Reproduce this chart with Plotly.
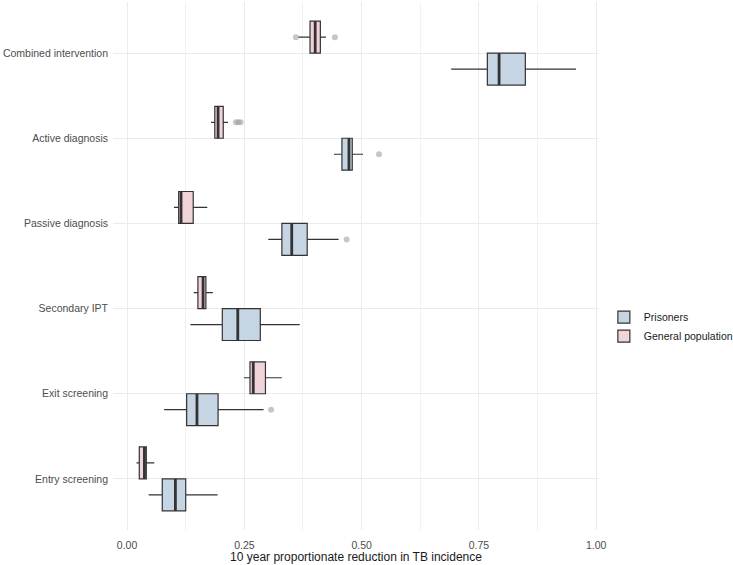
import plotly.graph_objects as go

# Categories, bottom to top
categories = ["Entry screening", "Exit screening", "Secondary IPT",
              "Passive diagnosis", "Active diagnosis", "Combined intervention"]

# Prisoners box statistics (same order as categories)
pris_low = [0.046, 0.079, 0.135, 0.301, 0.441, 0.691]
pris_q1 = [0.075, 0.127, 0.203, 0.330, 0.458, 0.768]
pris_med = [0.103, 0.149, 0.236, 0.351, 0.473, 0.793]
pris_q3 = [0.125, 0.194, 0.284, 0.384, 0.480, 0.849]
pris_high = [0.193, 0.291, 0.368, 0.451, 0.503, 0.957]

# General population box statistics
gen_low = [0.020, 0.249, 0.142, 0.100, 0.179, 0.365]
gen_q1 = [0.026, 0.262, 0.151, 0.110, 0.187, 0.390]
gen_med = [0.037, 0.269, 0.162, 0.115, 0.194, 0.401]
gen_q3 = [0.041, 0.295, 0.168, 0.141, 0.205, 0.412]
gen_high = [0.058, 0.330, 0.183, 0.171, 0.215, 0.424]

# Outliers
pris_out_cat = ["Exit screening", "Passive diagnosis", "Active diagnosis"]
pris_out_val = [0.307, 0.468, 0.537]
gen_out_cat = ["Active diagnosis", "Active diagnosis", "Active diagnosis",
               "Combined intervention", "Combined intervention"]
gen_out_val = [0.232, 0.237, 0.242, 0.360, 0.443]

x_ticks = [0, 0.25, 0.5, 0.75, 1.0]
x_ticktext = ["0.00", "0.25", "0.50", "0.75", "1.00"]

BOX_W = 0.375
PRIS_FILL = "#c6d5e4"
GEN_FILL = "#f1d3da"
EDGE = "#333333"

idx = {c: i + 1 for i, c in enumerate(categories)}
pris_pos = [idx[c] - BOX_W / 2 for c in categories]
gen_pos = [idx[c] + BOX_W / 2 for c in categories]

fig = go.Figure()

def add_group(name, pos, low, q1, med, q3, high, fill, out_cat, out_val, offset):
    fig.add_trace(go.Box(
        name=name, orientation="h", y=pos,
        lowerfence=low, q1=q1, median=med, q3=q3, upperfence=high,
        width=BOX_W, whiskerwidth=0, boxpoints=False,
        fillcolor=fill, line=dict(color=EDGE, width=1.2),
        showlegend=True, legendgroup=name,
    ))
    # thicker median lines
    mx, my = [], []
    for p, m in zip(pos, med):
        mx += [m, m, None]
        my += [p - BOX_W / 2, p + BOX_W / 2, None]
    fig.add_trace(go.Scatter(
        x=mx, y=my, mode="lines", line=dict(color=EDGE, width=2.8),
        showlegend=False, hoverinfo="skip", legendgroup=name,
    ))
    fig.add_trace(go.Scatter(
        x=out_val, y=[idx[c] + offset for c in out_cat], mode="markers",
        marker=dict(color="rgba(160,160,160,0.6)", size=6),
        showlegend=False, legendgroup=name,
    ))

add_group("Prisoners", pris_pos, pris_low, pris_q1, pris_med, pris_q3, pris_high,
          PRIS_FILL, pris_out_cat, pris_out_val, -BOX_W / 2)
add_group("General population", gen_pos, gen_low, gen_q1, gen_med, gen_q3, gen_high,
          GEN_FILL, gen_out_cat, gen_out_val, BOX_W / 2)

fig.update_layout(
    width=733, height=565,
    margin=dict(l=113, r=134, t=2, b=35, autoexpand=False),
    paper_bgcolor="white", plot_bgcolor="white",
    font=dict(family="Liberation Sans, Arial, sans-serif", size=10.5, color="#4d4d4d"),
    boxmode="overlay",
    legend=dict(x=1.01, y=0.385, xanchor="left", yanchor="middle",
                font=dict(size=10.5, color="#1a1a1a"), traceorder="normal",
                bgcolor="rgba(0,0,0,0)", itemwidth=30, tracegroupgap=2),
    xaxis=dict(
        range=[-0.030, 1.006], tickvals=x_ticks, ticktext=x_ticktext,
        showgrid=True, gridcolor="#ebebeb", gridwidth=1, zeroline=False,
        showline=False, ticks="", tickfont=dict(size=10.5, color="#4d4d4d"),
        automargin=False, ticklabelstandoff=7,
        minor=dict(dtick=0.125, tick0=0, showgrid=True, gridcolor="#f2f2f2", gridwidth=1),
        title=dict(text="10 year proportionate reduction in TB incidence",
                   font=dict(size=12, color="#1a1a1a"), standoff=0),
    ),
    yaxis=dict(
        range=[0.4, 6.6], tickvals=list(range(1, len(categories) + 1)),
        ticktext=categories, showgrid=True, gridcolor="#ebebeb", gridwidth=1,
        zeroline=False, showline=False, ticks="", ticklabelstandoff=4,
        automargin=False, tickfont=dict(size=10.5, color="#4d4d4d"),
    ),
)

fig.write_html("out.html", config={"displayModeBar": False},
               post_script="document.body.style.margin='0';")
